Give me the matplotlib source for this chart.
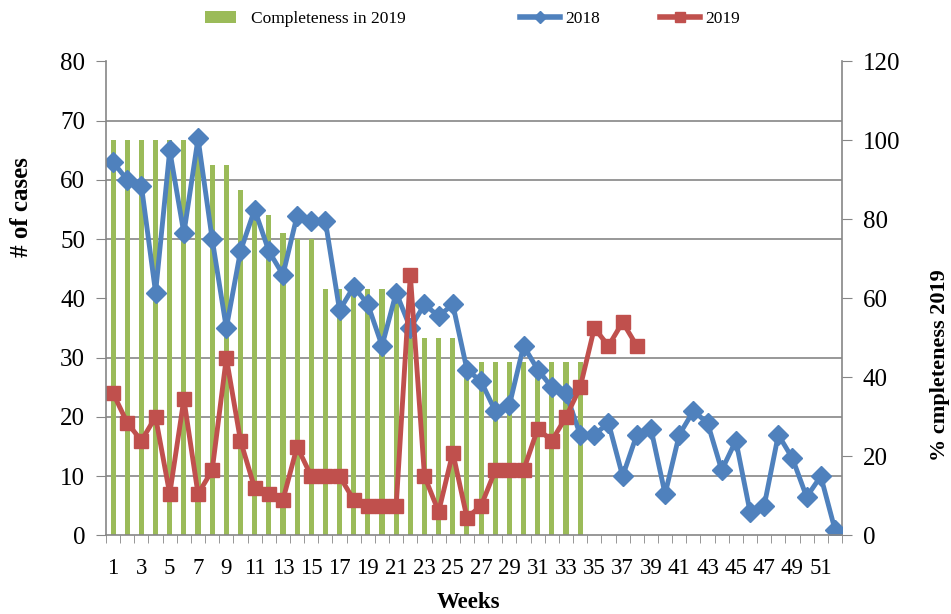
import numpy as np
import matplotlib.pyplot as plt
from matplotlib.patches import Patch
from matplotlib.lines import Line2D

# weekly case counts
weeks = np.arange(1, 53)
cases_2018 = [63, 60, 59, 41, 65, 51, 67, 50, 35, 48,
              55, 48, 44, 54, 53, 53, 38, 42, 39, 32,
              41, 35, 39, 37, 39, 28, 26, 21, 22, 32,
              28, 25, 24, 17, 17, 19, 10, 17, 18, 7,
              17, 21, 19, 11, 16, 4, 5, 17, 13, 6.5,
              10, 1]
cases_2019 = [24, 19, 16, 20, 7, 23, 7, 11, 30, 16,
              8, 7, 6, 15, 10, 10, 10, 6, 5, 5,
              5, 44, 10, 4, 14, 3, 5, 11, 11, 11,
              18, 16, 20, 25, 35, 32, 36, 32]
completeness_2019 = [100, 100, 100, 100, 100, 100, 100, 93.75, 93.75, 87.5,
                     81.25, 81.25, 76.5, 75, 75, 62.5, 62.5, 62.5, 62.5, 62.5,
                     62.5, 50, 50, 50, 50, 44, 44, 44, 44, 44,
                     44, 44, 44, 44]
x_tick_labels = [str(w) for w in range(1, 52, 2)]

plt.rcParams['font.family'] = ['Liberation Serif', 'DejaVu Serif']

green = '#9BBB59'
blue = '#4F81BD'
red = '#C0504D'
gray = '#868686'

fig = plt.figure(figsize=(9.51, 6.14), dpi=100)
ax = fig.add_axes([0.1115, 0.1279, 0.7739, 0.772])
ax2 = ax.twinx()

# bars + gridlines on the right axis, lines on the left axis drawn on top
ax2.bar(weeks[:len(completeness_2019)], completeness_2019, width=0.36, color=green, zorder=2)
ax2.set_ylim(0, 120)
ax2.set_yticks(range(0, 121, 20))
ax2.set_yticks(np.arange(0, 121, 15), minor=True)
ax2.grid(which='minor', axis='y', color=gray, linewidth=1.2, zorder=0)
ax2.set_axisbelow(True)
ax2.tick_params(axis='y', which='major', direction='out', length=7, color=gray, labelsize=18, pad=8)
ax2.tick_params(axis='y', which='minor', length=0)

ax.set_zorder(ax2.get_zorder() + 1)
ax.patch.set_visible(False)
ax.plot(weeks, cases_2018, color=blue, linewidth=3.5, marker='D', markersize=10,
        markerfacecolor=blue, markeredgecolor=blue)
ax.plot(weeks[:len(cases_2019)], cases_2019, color=red, linewidth=3.5, marker='s', markersize=10.5,
        markerfacecolor=red, markeredgecolor=red)
ax.set_ylim(0, 80)
ax.set_yticks(range(0, 81, 10))
ax.tick_params(axis='y', direction='out', length=7, color=gray, labelsize=18, pad=8)

ax.set_xlim(0.5, 52.5)
ax.set_xticks(np.arange(1, 52, 2))
ax.set_xticklabels(x_tick_labels)
ax.set_xticks(np.arange(0.5, 53, 1), minor=True)
ax.tick_params(axis='x', which='major', length=0, labelsize=16.5, pad=16)
ax.tick_params(axis='x', which='minor', direction='out', length=6, color=gray)

for a in (ax, ax2):
    a.spines['top'].set_visible(False)
    for s in ('left', 'right', 'bottom'):
        a.spines[s].set_color(gray)
        a.spines[s].set_linewidth(1.2)
ax2.spines['left'].set_visible(False)
ax2.spines['bottom'].set_visible(False)
ax.spines['right'].set_visible(False)

fig.text(22 / 951, 1 - 207 / 614, '# of cases', rotation=90, ha='center', va='center',
         fontsize=18, fontweight='bold')
fig.text(940 / 951, 1 - 365 / 614, '% cmpleteness 2019', rotation=90, ha='center', va='center',
         fontsize=16, fontweight='bold')
fig.text(468 / 951, 1 - 603 / 614, 'Weeks', ha='center', va='center',
         fontsize=16.5, fontweight='bold')

# three legend entries placed separately, as in the original
legend_items = [
    (Patch(facecolor=green), 'Completeness in 2019', 200 / 951, 1.75, 0.9),
    (Line2D([], [], color=blue, linewidth=4, marker='D', markersize=6), '2018', 515 / 951, 2.3, 0.3),
    (Line2D([], [], color=red, linewidth=4, marker='s', markersize=7), '2019', 655 / 951, 2.3, 0.3),
]
for handle, label, x0, hlen, hpad in legend_items:
    fig.legend([handle], [label], loc='upper left', bbox_to_anchor=(x0, 1 - 6 / 614),
               frameon=False, fontsize=12.5, handlelength=hlen, handletextpad=hpad,
               borderpad=0.3, borderaxespad=0.0)

fig.savefig('out.png', dpi=100)
